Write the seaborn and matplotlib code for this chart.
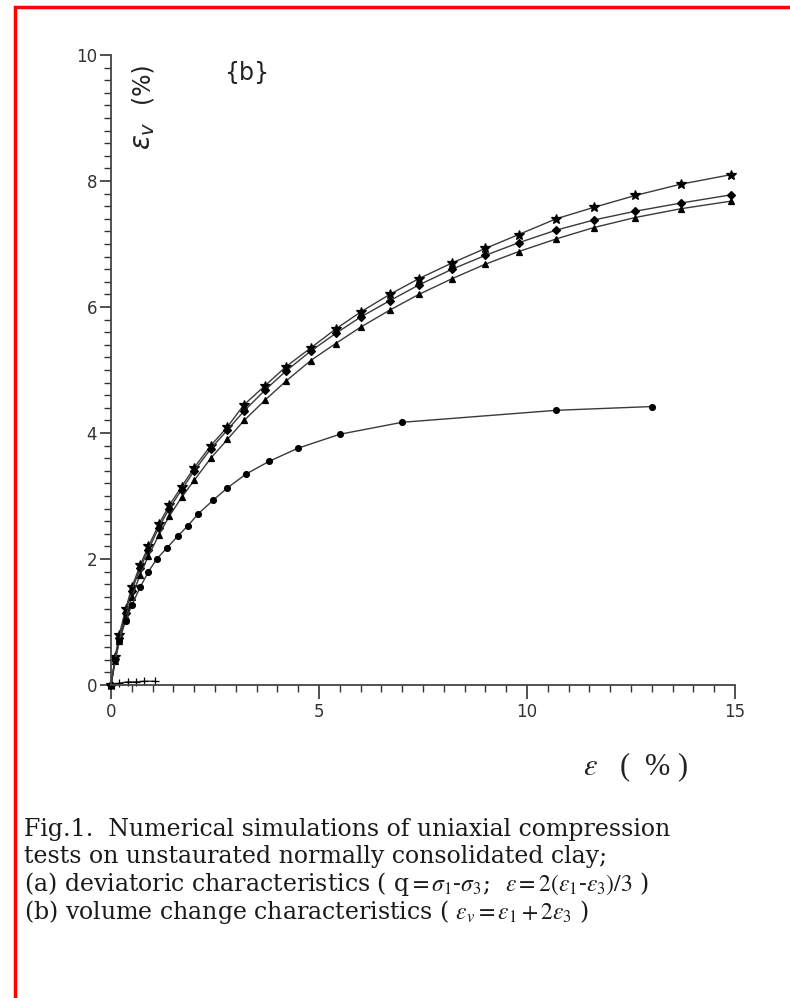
import matplotlib
matplotlib.use("Agg")
import matplotlib.pyplot as plt
from matplotlib.patches import Rectangle
from matplotlib.ticker import MultipleLocator
import seaborn as sns
import pandas as pd

# Volumetric strain eps_v (%) against shear strain eps (%) for the simulated tests
x_star = [0, 0.1, 0.2, 0.35, 0.5, 0.7, 0.9, 1.15, 1.4, 1.7, 2.0, 2.4, 2.8, 3.2, 3.7,
          4.2, 4.8, 5.4, 6.0, 6.7, 7.4, 8.2, 9.0, 9.8, 10.7, 11.6, 12.6, 13.7, 14.9]
y_star = [0, 0.45, 0.8, 1.2, 1.55, 1.9, 2.2, 2.55, 2.85, 3.15, 3.45, 3.8, 4.1, 4.45, 4.75,
          5.05, 5.35, 5.65, 5.92, 6.2, 6.45, 6.7, 6.93, 7.15, 7.4, 7.58, 7.77, 7.95, 8.1]

x_diamond = x_star
y_diamond = [0, 0.42, 0.75, 1.15, 1.5, 1.85, 2.15, 2.5, 2.8, 3.1, 3.4, 3.75, 4.05, 4.35, 4.68,
             4.98, 5.3, 5.58, 5.84, 6.1, 6.35, 6.6, 6.82, 7.02, 7.22, 7.38, 7.52, 7.65, 7.78]

x_tri = x_star
y_tri = [0, 0.38, 0.7, 1.08, 1.4, 1.75, 2.05, 2.38, 2.68, 2.98, 3.25, 3.6, 3.9, 4.2, 4.52,
         4.82, 5.15, 5.42, 5.68, 5.95, 6.2, 6.45, 6.68, 6.88, 7.08, 7.26, 7.42, 7.56, 7.68]

x_dot = [0, 0.1, 0.2, 0.35, 0.5, 0.7, 0.9, 1.1, 1.35, 1.6, 1.85, 2.1, 2.45, 2.8, 3.25,
         3.8, 4.5, 5.5, 7.0, 10.7, 13.0]
y_dot = [0, 0.4, 0.7, 1.02, 1.27, 1.55, 1.8, 2.0, 2.18, 2.36, 2.53, 2.72, 2.93, 3.13, 3.35,
         3.55, 3.76, 3.98, 4.17, 4.36, 4.42]

x_flat = [0, 0.2, 0.4, 0.6, 0.8, 1.05]
y_flat = [0, 0.03, 0.05, 0.05, 0.06, 0.06]

series = [
    (x_star, y_star, "*", 7),
    (x_diamond, y_diamond, "D", 4),
    (x_tri, y_tri, "^", 4.5),
    (x_dot, y_dot, "o", 4.2),
    (x_flat, y_flat, "+", 6),
]

caption_lines = [
    "Fig.1.  Numerical simulations of uniaxial compression",
    "tests on unstaurated normally consolidated clay;",
    r"(a) deviatoric characteristics ( q$=\sigma_1$-$\sigma_3$;  $\varepsilon=2(\varepsilon_1$-$\varepsilon_3)/3$ )",
    r"(b) volume change characteristics ( $\varepsilon_v=\varepsilon_1+2\varepsilon_3$ )",
]

sns.set_theme(style="white")
plt.rcParams["mathtext.fontset"] = "stix"

fig = plt.figure(figsize=(7.9, 9.98), dpi=100)
W, H = 790, 998
ax = fig.add_axes([111 / W, (H - 685) / H, (735 - 111) / W, (685 - 55) / H])

for xs, ys, mk, ms in series:
    df = pd.DataFrame({"eps": xs, "epsv": ys})
    sns.lineplot(data=df, x="eps", y="epsv", ax=ax, sort=False, estimator=None,
                 color="#3a3a3a", linewidth=1.0, marker=mk, markersize=ms,
                 markerfacecolor="black", markeredgecolor="black",
                 markeredgewidth=0.9, clip_on=False)

ax.set_xlim(0, 15)
ax.set_ylim(0, 10)
sns.despine(ax=ax)
for s in ("left", "bottom"):
    ax.spines[s].set_color("#444444")
    ax.spines[s].set_linewidth(1.3)

ax.xaxis.set_major_locator(MultipleLocator(5))
ax.xaxis.set_minor_locator(MultipleLocator(0.5))
ax.yaxis.set_major_locator(MultipleLocator(2))
ax.yaxis.set_minor_locator(MultipleLocator(0.2))
ax.tick_params(axis="both", which="both", direction="out", color="#333333",
               bottom=True, left=True, labelsize=12, labelcolor="#333333")
ax.tick_params(axis="x", which="major", length=10, width=1.2, pad=3)
ax.tick_params(axis="x", which="minor", length=5, width=1.0)
ax.tick_params(axis="y", which="major", length=8, width=1.2, pad=2)
ax.tick_params(axis="y", which="minor", length=5, width=1.0)
ax.set_xlabel("")
ax.set_ylabel("")

# axis titles drawn inside the frame
ax.text(0.76, 8.72, r"$\varepsilon_v$", rotation=90, fontsize=20,
        math_fontfamily="dejavusans", color="#222222", ha="center", va="center")
ax.text(0.74, 9.56, "(%)", rotation=90, fontsize=17, family="DejaVu Sans",
        color="#222222", ha="center", va="center")
ax.text(3.25, 9.72, "{b}", fontsize=17, family="DejaVu Sans", color="#222222",
        ha="center", va="center")
fig.text(583 / W, 1 - 767 / H, r"$\varepsilon$   (  % )", fontsize=22,
         family="Liberation Serif", color="#222222", ha="left", va="center")

# figure caption, one text per line
for i, line in enumerate(caption_lines):
    fig.text(24 / W, 1 - (836 + i * 27.5) / H, line, fontsize=17,
             family="DejaVu Serif", color="#1a1a1a", ha="left", va="baseline")

# page frame
fig.patches.append(Rectangle((14.5 / W, -0.05), 1.2, 1 - 7 / H + 0.05,
                             transform=fig.transFigure, fill=False,
                             edgecolor="#ff0000", linewidth=2.5))

fig.savefig("out.png", dpi=100)
